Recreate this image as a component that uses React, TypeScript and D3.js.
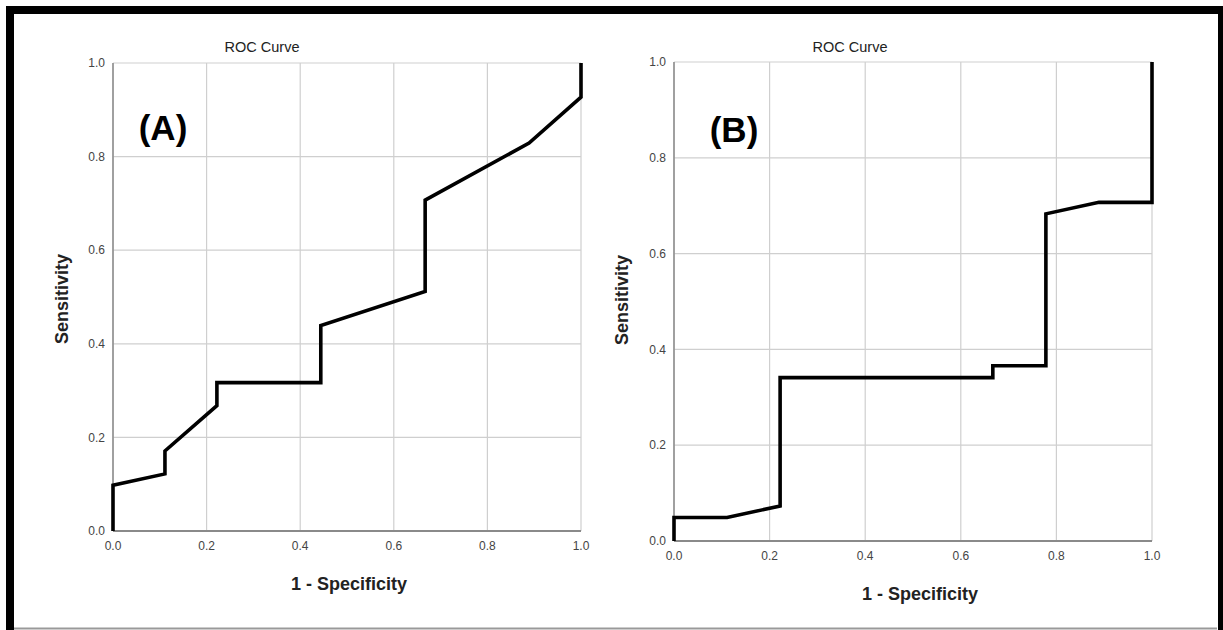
import React from 'react';
import * as d3 from 'd3';

// ROC curve points (1 - specificity, sensitivity)
const fprA = [0, 0, 0.111, 0.111, 0.222, 0.222, 0.444, 0.444, 0.667, 0.667, 0.889, 1, 1];
const tprA = [0, 0.098, 0.122, 0.171, 0.268, 0.317, 0.317, 0.439, 0.512, 0.707, 0.829, 0.927, 1];

const fprB = [0, 0, 0.111, 0.222, 0.222, 0.667, 0.667, 0.778, 0.778, 0.889, 1, 1];
const tprB = [0, 0.049, 0.049, 0.073, 0.341, 0.341, 0.366, 0.366, 0.683, 0.707, 0.707, 1];

const ticks = [0, 0.2, 0.4, 0.6, 0.8, 1.0];
const panelLabels = ['(A)', '(B)'];

const FONT = '"Liberation Sans", Arial, sans-serif';

type PanelProps = {
  fpr: number[];
  tpr: number[];
  label: string;
  xr: [number, number];
  yr: [number, number];
  titleX: number;
  labelPos: [number, number];
  xTitle: [number, number];
  yTitle: [number, number];
};

function Panel({ fpr, tpr, label, xr, yr, titleX, labelPos, xTitle, yTitle }: PanelProps) {
  const x = d3.scaleLinear().domain([0, 1]).range(xr);
  const y = d3.scaleLinear().domain([0, 1]).range(yr);
  const pts: [number, number][] = fpr.map((f, i) => [f, tpr[i]]);
  const line = d3.line<[number, number]>()
    .x(d => x(d[0]))
    .y(d => y(d[1]));

  return (
    <g>
      <text x={titleX} y={52} textAnchor="middle" fontSize={14.5} fill="#222" fontFamily={FONT}>ROC Curve</text>
      {ticks.map(t => (
        <g key={'g' + t}>
          <line x1={x(t)} x2={x(t)} y1={y(0)} y2={y(1)} stroke="#cfcfcf" strokeWidth={1.2} />
          <line x1={x(0)} x2={x(1)} y1={y(t)} y2={y(t)} stroke="#cfcfcf" strokeWidth={1.2} />
        </g>
      ))}
      <line x1={x(0)} x2={x(0)} y1={y(0)} y2={y(1)} stroke="#8a8a8a" strokeWidth={1.5} />
      <line x1={x(0)} x2={x(1)} y1={y(0)} y2={y(0)} stroke="#8a8a8a" strokeWidth={2} />
      {ticks.map(t => (
        <text key={'yt' + t} x={x(0) - 8} y={y(t)} dy="0.35em" textAnchor="end" fontSize={12} fill="#444" fontFamily={FONT}>
          {t.toFixed(1)}
        </text>
      ))}
      {ticks.map(t => (
        <text key={'xt' + t} x={x(t)} y={y(0) + 19} textAnchor="middle" fontSize={12} fill="#444" fontFamily={FONT}>
          {t.toFixed(1)}
        </text>
      ))}
      <path d={line(pts) || ''} fill="none" stroke="#000" strokeWidth={3.6} strokeLinejoin="miter" />
      <text x={labelPos[0]} y={labelPos[1]} dy="0.35em" textAnchor="middle" fontSize={35} fontWeight="bold" fill="#000" fontFamily={FONT}>
        {label}
      </text>
      <text x={xTitle[0]} y={xTitle[1]} dy="0.35em" textAnchor="middle" fontSize={18} fontWeight="bold" fill="#222" fontFamily={FONT}>
        1 - Specificity
      </text>
      <text transform={`translate(${yTitle[0]},${yTitle[1]}) rotate(-90)`} dy="0.35em" textAnchor="middle" fontSize={18} fontWeight="bold" fill="#222" fontFamily={FONT}>
        Sensitivity
      </text>
    </g>
  );
}

export default function App() {
  const W = 1223;
  const H = 630;
  return (
    <div style={{ position: 'absolute', left: 0, top: 0 }}>
      <svg width={W} height={H} style={{ display: 'block', background: '#fff' }}>
        <rect x={0} y={0} width={W} height={H} fill="#fff" />
        {/* frame */}
        <rect x={10} y={10} width={1212} height={640} fill="none" stroke="#000" strokeWidth={8} />
        <line x1={14} x2={1217} y1={628.5} y2={628.5} stroke="#999" strokeWidth={2} />
        <Panel
          fpr={fprA}
          tpr={tprA}
          label={panelLabels[0]}
          xr={[113, 581]}
          yr={[531, 63]}
          titleX={262}
          labelPos={[163, 128]}
          xTitle={[349, 584]}
          yTitle={[62, 299]}
        />
        <Panel
          fpr={fprB}
          tpr={tprB}
          label={panelLabels[1]}
          xr={[674, 1152]}
          yr={[541, 62]}
          titleX={850}
          labelPos={[734, 130]}
          xTitle={[920, 594]}
          yTitle={[622, 300]}
        />
      </svg>
    </div>
  );
}
